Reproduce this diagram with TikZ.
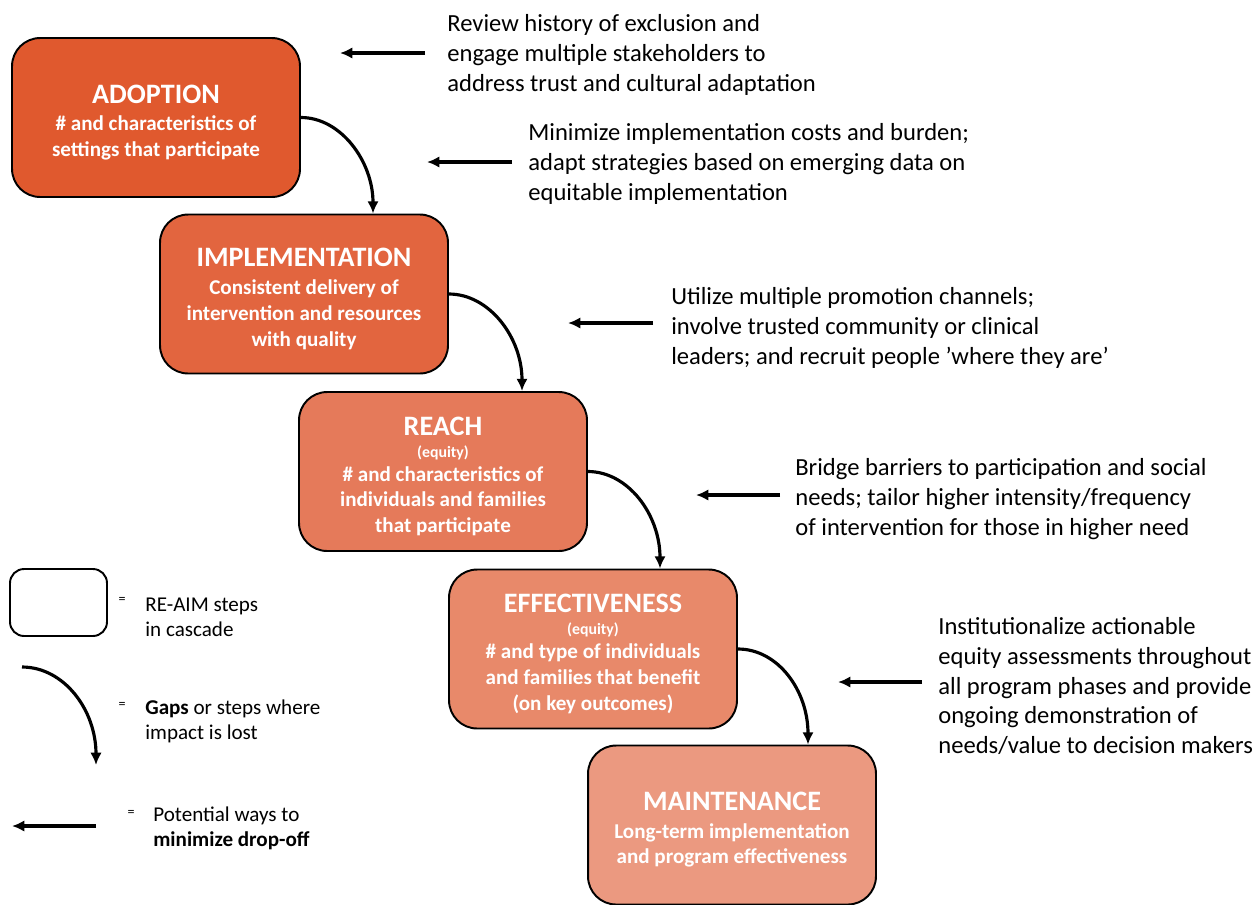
\documentclass[tikz,border=0pt]{standalone}
\usepackage{fontspec}
\setmainfont{Carlito}
\usetikzlibrary{calc,arrows.meta}

\definecolor{adoptcol}{HTML}{E0592E}
\definecolor{implcol}{HTML}{E2653F}
\definecolor{reachcol}{HTML}{E57A5A}
\definecolor{effectcol}{HTML}{E8896A}
\definecolor{maintcol}{HTML}{EB9980}

\newcommand{\stagetitle}[1]{{\fontsize{16}{18}\selectfont\rule{0pt}{16pt}#1}}
\newcommand{\equitynote}{\fontsize{9}{11}\selectfont}

\tikzset{
    stage/.style={draw,line width=1.1pt,rounded corners=16pt,minimum width=5.76cm,
        minimum height=3.18cm,align=center,text=white,
        font=\bfseries\fontsize{12}{14.7}\selectfont},
    gap/.style={line width=1.8pt,-{Latex[length=7pt,width=6.5pt]}},
    fix/.style={line width=1.8pt,-{Latex[length=7pt,width=6.5pt]}},
    note/.style={anchor=west,align=left,inner sep=0pt,font=\fontsize{14}{17}\selectfont},
    legtext/.style={anchor=west,align=left,inner sep=0pt,font=\fontsize{12}{14.2}\selectfont},
    eqsign/.style={inner sep=0pt,font=\fontsize{8}{9}\selectfont}
}

\begin{document}
\begin{tikzpicture}[x=0.02cm,y=-0.02cm]
    \useasboundingbox[fill=white] (0,0) rectangle (1258,904);

    % cascade of RE-AIM steps
    \node[stage,fill=adoptcol] (adopt) at (156,117.5)
        {\stagetitle{ADOPTION}\\[1pt] \# and characteristics of\\ settings that participate};
    \node[stage,fill=implcol] (impl) at (304,294)
        {\stagetitle{IMPLEMENTATION}\\[1pt] Consistent delivery of\\ intervention and resources\\ with quality};
    \node[stage,fill=reachcol] (reach) at (443,471.5)
        {\stagetitle{REACH}\\[-2.2pt] {\equitynote (equity)}\\[-1.1pt] \# and characteristics of\\ individuals and families\\ that participate};
    \node[stage,fill=effectcol] (effect) at (593,649)
        {\stagetitle{EFFECTIVENESS}\\[-2.2pt] {\equitynote (equity)}\\[-1.1pt] \# and type of individuals\\ and families that benefit\\ (on key outcomes)};
    \node[stage,fill=maintcol] (maint) at (732,825)
        {\stagetitle{MAINTENANCE}\\[1pt] Long-term implementation\\ and program effectiveness};

    \draw[gap] (adopt.east) .. controls +(40,0) and +(0,-52) .. ($(impl.north)+(69,0)$);
    \draw[gap] (impl.east) .. controls +(40,0) and +(0,-54) .. ($(reach.north)+(79,0)$);
    \draw[gap] (reach.east) .. controls +(40,0) and +(0,-54) .. ($(effect.north)+(67,0)$);
    \draw[gap] (effect.east) .. controls +(40,0) and +(0,-54) .. ($(maint.north)+(76,0)$);

    % ways to minimize drop-off
    \node[note] (note1) at (447,55) {Review history of exclusion and\\ engage multiple stakeholders to\\ address trust and cultural adaptation};
    \node[note] (note2) at (528,164) {Minimize implementation costs and burden;\\ adapt strategies based on emerging data on\\ equitable implementation};
    \node[note] (note3) at (671,328) {Utilize multiple promotion channels;\\ involve trusted community or clinical\\ leaders; and recruit people ’where they are’};
    \node[note] (note4) at (795,499) {Bridge barriers to participation and social\\ needs; tailor higher intensity/frequency\\ of intervention for those in higher need};
    \node[note] (note5) at (938,686) {Institutionalize actionable\\ equity assessments throughout\\ all program phases and provide\\ ongoing demonstration of\\ needs/value to decision makers};

    \draw[fix] ($(note1.west)+(-22,-2)$) -- ++(-85,0);
    \draw[fix] ($(note2.west)+(-16,-2)$) -- ++(-85,0);
    \draw[fix] ($(note3.west)+(-18,-5)$) -- ++(-85,0);
    \draw[fix] ($(note4.west)+(-15,-4)$) -- ++(-84,0);
    \draw[fix] ($(note5.west)+(-16,-4)$) -- ++(-84,0);

    % legend
    \node[draw,line width=1.1pt,rounded corners=8pt,minimum width=1.94cm,minimum height=1.34cm] (legstep) at (58.5,602.5) {};
    \node[eqsign] (eq1) at (122,600) {=};
    \node[legtext] (leg1) at (145,617) {RE-AIM steps\\ in cascade};

    \coordinate (g0) at (22,667);
    \coordinate (g1) at (96,765);
    \draw[gap] (g0) .. controls +(42,0) and +(0,-55) .. (g1);
    \node[eqsign] (eq2) at (122,705) {=};
    \node[legtext] (leg2) at (145,721) {\textbf{Gaps} or steps where\\ impact is lost};

    \coordinate (f0) at (96,826);
    \coordinate (f1) at (12,826);
    \draw[fix] (f0) -- (f1);
    \node[eqsign] (eq3) at (131,813) {=};
    \node[legtext] (leg3) at (153,828) {Potential ways to\\ \textbf{minimize drop-off}};
\end{tikzpicture}
\end{document}
